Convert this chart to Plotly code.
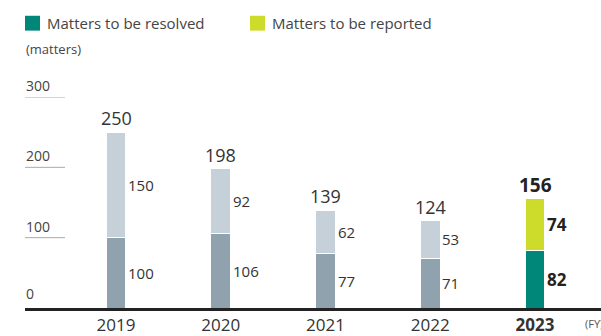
import plotly.graph_objects as go

years = [2019, 2020, 2021, 2022, 2023]
resolved = [100, 106, 77, 71, 82]
reported = [150, 92, 62, 53, 74]
totals = [250, 198, 139, 124, 156]
ytick_vals = [0, 100, 200, 300]
ytick_text = ["0", "100", "200", "300"]

c_res = ["#8fa2ae"] * 4 + ["#00877a"]
c_rep = ["#c5d0d8"] * 4 + ["#cddc2b"]
txt = "#333333"
FONT = "Open Sans"

fig = go.Figure()
fig.add_trace(go.Bar(x=years, y=resolved, marker=dict(color=c_res, line=dict(color="white", width=1)),
                     width=0.19, showlegend=False, hoverinfo="skip"))
fig.add_trace(go.Bar(x=years, y=reported, marker=dict(color=c_rep, line=dict(color="white", width=1)),
                     width=0.19, showlegend=False, hoverinfo="skip"))

ann = []
for i, yr in enumerate(years):
    last = (yr == 2023)
    b = (lambda s: f"<b>{s}</b>") if last else (lambda s: s)
    ann.append(dict(x=yr, y=totals[i], text=b(str(totals[i])), showarrow=False, yanchor="bottom",
                    yshift=-2 if last else 0,
                    font=dict(size=19 if last else 18, color="#222" if last else txt, family=FONT)))
    ann.append(dict(x=yr, y=resolved[i] / 2, text=b(str(resolved[i])), showarrow=False, xanchor="left",
                    xshift=10, font=dict(size=17 if last else 15, color="#222" if last else txt, family=FONT)))
    ann.append(dict(x=yr, y=resolved[i] + reported[i] / 2, text=b(str(reported[i])), showarrow=False,
                    xanchor="left", xshift=10,
                    font=dict(size=17 if last else 15, color="#222" if last else txt, family=FONT)))

shapes = []
for v, t in zip(ytick_vals, ytick_text):
    ann.append(dict(xref="paper", x=0, y=v, text=t, showarrow=False, xanchor="left", yanchor="bottom",
                    yshift=0 if v > 0 else 3, xshift=-1, font=dict(size=14, color="#444", family=FONT)))
    if v > 0:
        shapes.append(dict(type="line", xref="paper", x0=0, x1=40 / 576, y0=v, y1=v,
                           line=dict(color="#aaaaaa", width=1)))

# unit label
ann.append(dict(xref="paper", yref="paper", x=0, y=1, text="(matters)", showarrow=False, xanchor="left",
                yanchor="middle", xshift=-1, yshift=97 - 49, font=dict(size=13, color="#444", family=FONT)))
# FY label
ann.append(dict(xref="paper", yref="paper", x=1, y=0, text="(FY)", showarrow=False, xanchor="left",
                yanchor="middle", xshift=-18, yshift=-15, font=dict(size=11, color="#555", family=FONT)))
# legend
leg = [("Matters to be resolved", "#00877a", 25), ("Matters to be reported", "#cddc2b", 250)]
for name, col, px in leg:
    shapes.append(dict(type="rect", xref="paper", yref="paper", x0=(px - 25) / 576, x1=(px - 10) / 576,
                       y0=(310 - 30) / 213, y1=(310 - 15) / 213, fillcolor=col, line=dict(width=0)))
    ann.append(dict(xref="paper", yref="paper", x=(px - 25 + 20) / 576, y=(310 - 22.5) / 213, text=name,
                    showarrow=False, xanchor="left", yanchor="middle",
                    font=dict(size=15, color="#444", family=FONT)))

fig.update_layout(
    width=601, height=336, margin=dict(l=25, r=0, t=97, b=26),
    paper_bgcolor="white", plot_bgcolor="white", barmode="stack",
    xaxis=dict(range=[2018.131, 2023.63], tickvals=years,
               ticktext=["2019", "2020", "2021", "2022", "<b>2023</b>"],
               tickfont=dict(size=17, color="#333", family=FONT), showline=True, linecolor="#222",
               linewidth=3, showgrid=False, zeroline=False, ticks="", fixedrange=True),
    yaxis=dict(range=[0, 300], showticklabels=False, showgrid=False, zeroline=False, fixedrange=True),
    annotations=ann, shapes=shapes, font=dict(family=FONT),
)
fig.write_html("out.html")
